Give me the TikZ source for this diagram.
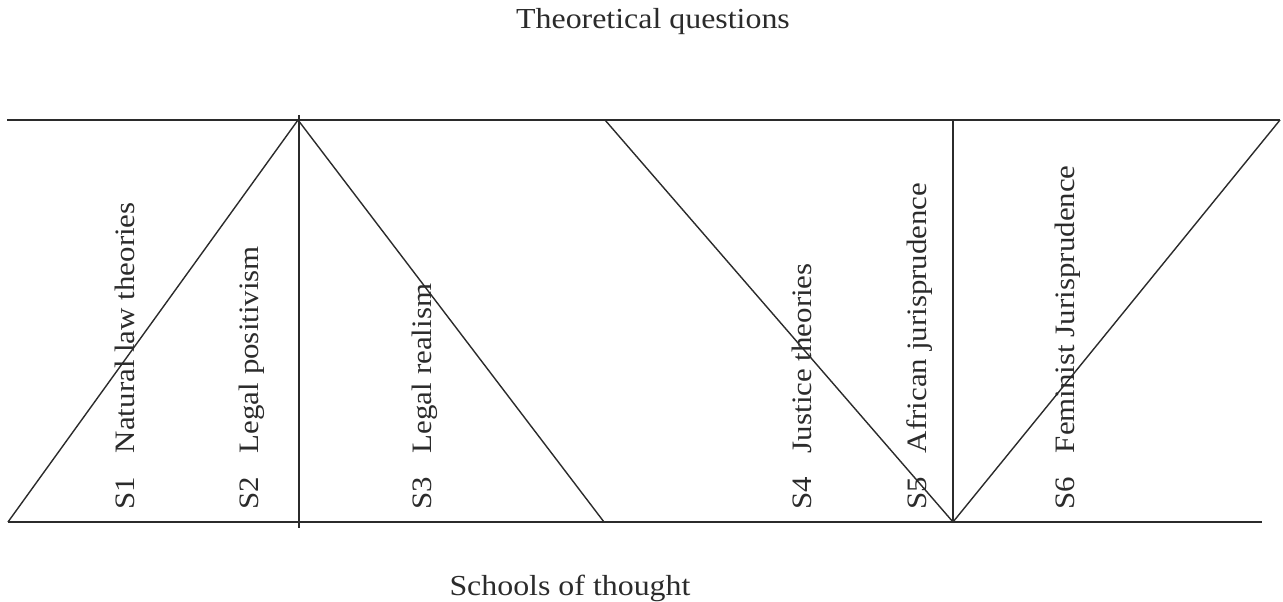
\documentclass[tikz,border=0pt]{standalone}
\usepackage{fontspec}
\setmainfont{Liberation Serif}[FakeStretch=1.1]
\usepackage{xcolor}
\usepackage{tikz}
\usetikzlibrary{positioning}
\definecolor{inkgray}{HTML}{2B2B2B}

\begin{document}
\begin{tikzpicture}[x=1cm,y=1cm, font=\fontsize{16}{19}\selectfont,
  rule/.style={draw=inkgray, line width=0.8pt},
  heading/.style={text=inkgray, font=\fontsize{16.5}{20}\selectfont},
  school/.style={rotate=90, anchor=west, inner sep=0pt, text=inkgray}]
  \useasboundingbox (0,0) rectangle (25.66,12.04);
  \node[heading] (questions) at (13.06,11.61) {Theoretical questions};
  \node[heading] (schools) at (11.40,0.28) {Schools of thought};
  % frame lines
  \draw[rule] (0.14,9.64) -- (25.60,9.64);
  \draw[rule] (0.16,1.60) -- (25.24,1.60);
  \draw[rule] (5.98,9.74) -- (5.98,1.48);
  \draw[rule] (19.06,9.64) -- (19.06,1.60);
  % triangles
  \draw[rule] (0.16,1.60) -- (5.96,9.64) -- (12.08,1.60);
  \draw[rule] (12.10,9.64) -- (19.06,1.60) -- (25.60,9.64);
  % schools
  \node[school] (s1) at (2.50,1.84) {S1\hspace{0.85em}Natural law theories};
  \node[school] (s2) at (5.04,1.84) {S2\hspace{0.85em}Legal positivism};
  \node[school] (s3) at (8.50,1.84) {S3\hspace{0.85em}Legal realism};
  \node[school] (s4) at (16.04,1.84) {S4\hspace{0.85em}Justice theories};
  \node[school] (s5) at (18.40,1.84) {S5\hspace{0.85em}African jurisprudence};
  \node[school] (s6) at (21.36,1.84) {S6\hspace{0.85em}Feminist Jurisprudence};
\end{tikzpicture}
\end{document}
